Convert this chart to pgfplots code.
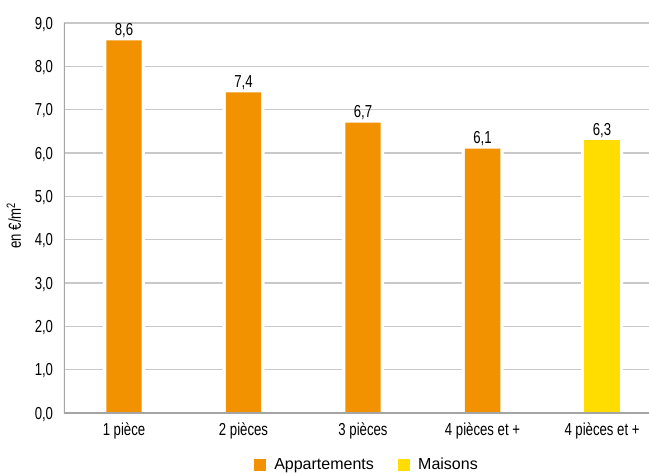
\documentclass[border=0pt]{standalone}
\usepackage{fontspec}
\setmainfont{Liberation Sans}
\newfontfamily\narrowfont{Liberation Sans}[FakeStretch=0.76]
\usepackage{pgfplots}
\pgfplotsset{compat=1.18}

\definecolor{appart}{RGB}{243,146,0}
\definecolor{maison}{RGB}{255,221,0}
\definecolor{gridgrey}{RGB}{200,200,200}
\definecolor{axisgrey}{RGB}{165,165,165}

\begin{document}
\begin{tikzpicture}
\useasboundingbox (-48pt,-44.25pt) rectangle (438.75pt,309.75pt);
\clip (-48pt,-44.25pt) rectangle (438.75pt,309.75pt);
\begin{axis}[
  scale only axis,
  width=438.75pt, height=292.5pt,
  xmin=-0.502, xmax=4.393,
  ymin=0, ymax=9,
  ytick={0,1,...,9},
  xtick={0,1,2,3,4},
  xticklabels={1 pièce, 2 pièces, 3 pièces, 4 pièces et +, 4 pièces et +},
  major tick length=0pt,
  axis line style={draw=none},
  ymajorgrids,
  grid style={gridgrey, line width=1pt},
  /pgf/number format/.cd, fixed, fixed zerofill, precision=1, use comma, assume math mode=true,
  /pgfplots/.cd,
  tick label style={font=\narrowfont\fontsize{13}{15}\selectfont},
  yticklabel style={anchor=base east, inner sep=0pt, xshift=-8pt, yshift=-4.5pt},
  xticklabel style={anchor=base, inner sep=0pt, yshift=-16.5pt},
  ylabel={en €/m\textsuperscript{2}},
  ylabel style={at={(rel axis cs:-0.0735,0.481)}, anchor=base,
    font=\narrowfont\fontsize{13}{15}\selectfont},
  legend columns=2,
  legend style={at={(0.518,-0.1333)}, anchor=center, draw=none, fill=none,
    font=\fontsize{12}{14}\selectfont, inner sep=0pt,
    /tikz/every even column/.append style={column sep=15.75pt}},
]
% white backing bars open a gap in the grid lines around each bar
\addplot[ybar, bar width=31.5pt, bar shift=0pt, fill=white, draw=none, forget plot]
  coordinates {(0,8.6) (1,7.4) (2,6.7) (3,6.1) (4,6.3)};

\addplot[ybar, bar width=26.6pt, bar shift=0pt, fill=appart, draw=none,
  legend image code/.code={\fill[appart] (0pt,-4.75pt) rectangle (9.5pt,4.75pt); \path (13.5pt,0pt);},
  nodes near coords,
  nodes near coords style={font=\narrowfont\fontsize{13}{15}\selectfont, anchor=base, inner sep=0pt, yshift=3.75pt,
    /pgf/number format/.cd, fixed, fixed zerofill, precision=1, use comma, assume math mode=true}]
  coordinates {(0,8.6) (1,7.4) (2,6.7) (3,6.1)};
\addlegendentry{Appartements}

\addplot[ybar, bar width=26.6pt, bar shift=0pt, fill=maison, draw=none,
  legend image code/.code={\fill[maison] (0pt,-4.75pt) rectangle (9.5pt,4.75pt); \path (13.5pt,0pt);},
  nodes near coords,
  nodes near coords style={font=\narrowfont\fontsize{13}{15}\selectfont, anchor=base, inner sep=0pt, yshift=3.75pt,
    /pgf/number format/.cd, fixed, fixed zerofill, precision=1, use comma, assume math mode=true}]
  coordinates {(4,6.3)};
\addlegendentry{Maisons}

% axis lines on top of the bars
\draw[axisgrey, line width=1.5pt] (rel axis cs:0,1) -- (rel axis cs:0,0) -- (rel axis cs:1,0);
\end{axis}
\end{tikzpicture}
\end{document}
